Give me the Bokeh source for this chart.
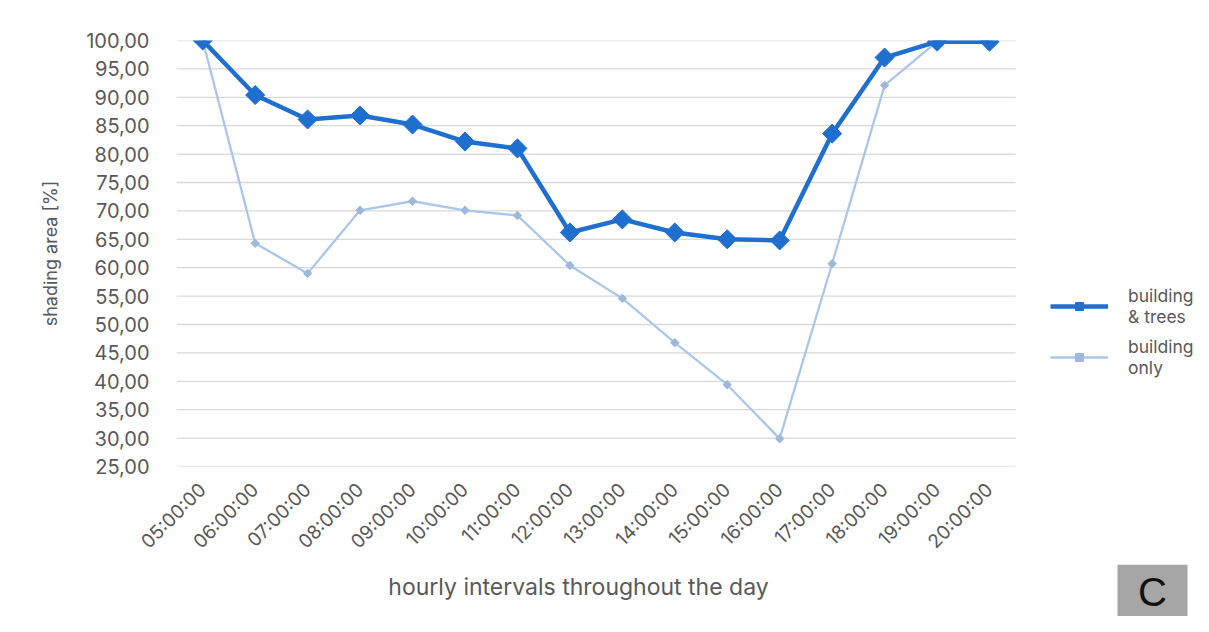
from bokeh.plotting import figure
from bokeh.layouts import column
from bokeh.models import (Range1d, FixedTicker, CustomJSTickFormatter,
                          Legend, LegendItem, Label, BoxAnnotation)
from bokeh.embed import file_html
from bokeh.resources import INLINE
import math

hours = ["05:00:00", "06:00:00", "07:00:00", "08:00:00", "09:00:00", "10:00:00",
         "11:00:00", "12:00:00", "13:00:00", "14:00:00", "15:00:00", "16:00:00",
         "17:00:00", "18:00:00", "19:00:00", "20:00:00"]
building_trees = [100.0, 90.4, 86.1, 86.8, 85.2, 82.2, 81.0, 66.2, 68.5, 66.2,
                  65.0, 64.8, 83.6, 97.0, 99.8, 99.8]
building_only = [100.0, 64.3, 59.0, 70.1, 71.7, 70.1, 69.2, 60.4, 54.6, 46.8,
                 39.4, 29.9, 60.7, 92.1, 99.8, 99.8]
y_ticks = [25, 30, 35, 40, 45, 50, 55, 60, 65, 70, 75, 80, 85, 90, 95, 100]

FONT = "Inter"
GRAY = "#595959"
DARK = "#1F6FD0"
LIGHT = "#AAC7EA"
LIGHT_M = "#9DB8DA"
W = 1193
LEFT = 176
H1 = 564
H2 = 616 - H1

xs = list(range(len(hours)))
n = len(hours)
# frame runs from the left border to the right edge; the categories take the left part,
# the legend sits in the remaining room
p = figure(width=W, height=H1, x_range=Range1d(-0.5, n - 0.5 + 3.39), y_range=Range1d(25, 100),
           output_backend="svg", toolbar_location=None,
           min_border_left=LEFT, min_border_right=0, min_border_top=40,
           min_border_bottom=H1 - 466)

p.grid.visible = False
p.segment(x0=-0.5, x1=n - 0.5, y0=y_ticks, y1=y_ticks, line_color="#D9D9D9",
          line_width=1.3, level="underlay")

l2 = p.line(xs, building_only, line_color=LIGHT, line_width=2.3)
s2 = p.scatter(xs, building_only, marker="square", angle=math.pi / 4, size=6,
               fill_color=LIGHT_M, line_color=LIGHT_M)
l1 = p.line(xs, building_trees, line_color=DARK, line_width=4.5)
s1 = p.scatter(xs, building_trees, marker="square", angle=math.pi / 4, size=13.5,
               fill_color=DARK, line_color=DARK)

p.xaxis.ticker = FixedTicker(ticks=xs)
p.xaxis.major_label_overrides = {i: h for i, h in zip(xs, hours)}
p.yaxis.ticker = FixedTicker(ticks=y_ticks)
p.yaxis.formatter = CustomJSTickFormatter(code="return tick.toFixed(2).replace('.', ',');")
for ax in (p.xaxis[0], p.yaxis[0]):
    ax.axis_line_color = None
    ax.major_tick_line_color = None
    ax.minor_tick_line_color = None
    ax.major_label_text_color = GRAY
    ax.major_label_text_font = FONT
    ax.axis_label_text_font = FONT
    ax.axis_label_text_color = GRAY
    ax.axis_label_text_font_style = "normal"
p.yaxis.major_label_text_font_size = "20px"
p.yaxis.major_label_standoff = 21
p.yaxis.axis_label = "shading area [%]"
p.yaxis.axis_label_text_font_size = "18px"
p.yaxis.axis_label_standoff = 22
p.xaxis.major_label_orientation = math.pi / 4
p.xaxis.major_label_text_font_size = "19px"
p.xaxis.major_label_standoff = 14
p.outline_line_color = None

legend = Legend(items=[LegendItem(label="building\n& trees", renderers=[l1, s1]),
                       LegendItem(label="building\nonly", renderers=[l2, s2])],
                location=(874, 88), margin=0, padding=10, border_line_color=None,
                background_fill_alpha=0,
                label_text_font=FONT, label_text_font_size="17.5px", label_text_color=GRAY,
                glyph_width=58, glyph_height=20, label_standoff=20, spacing=9)
p.add_layout(legend, "center")

# bottom strip: x-axis title and panel letter (x in page pixels)
p2 = figure(width=W, height=H2, x_range=Range1d(LEFT, W), y_range=Range1d(0, H2),
            output_backend="svg", toolbar_location=None, min_border=0,
            min_border_left=LEFT, min_border_right=0,
            x_axis_location=None, y_axis_location=None)
p2.grid.visible = False
p2.outline_line_color = None
p2.add_layout(Label(x=578, y=30, text="hourly intervals throughout the day",
                    text_align="center", text_baseline="middle", text_font=FONT,
                    text_font_size="23px", text_color=GRAY))
p2.add_layout(BoxAnnotation(left=1117, right=1187, bottom=0, top=H2,
                            fill_color="#A6A6A6", fill_alpha=1, line_color=None))
p2.add_layout(Label(x=1152, y=H2 / 2 - 1, text="C", text_align="center", text_baseline="middle",
                    text_font="Liberation Sans", text_font_size="40px", text_color="#111111"))

open("out.html", "w").write(file_html(column(p, p2, spacing=0), INLINE))
